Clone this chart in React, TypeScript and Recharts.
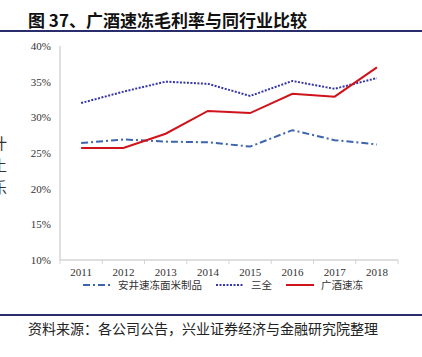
import React from "react";
import { LineChart, Line, XAxis, YAxis } from "recharts";

const years = ["2011", "2012", "2013", "2014", "2015", "2016", "2017", "2018"];
const anjing = [26.4, 26.9, 26.6, 26.5, 25.9, 28.2, 26.8, 26.2];
const sanquan = [32.0, 33.6, 35.0, 34.7, 33.0, 35.1, 34.0, 35.5];
const guangjiu = [25.7, 25.7, 27.7, 30.9, 30.6, 33.3, 32.9, 37.0];
const yTicks = [10, 15, 20, 25, 30, 35, 40];

const data = years.map((year, i) => ({
  year,
  anjing: anjing[i],
  sanquan: sanquan[i],
  guangjiu: guangjiu[i],
}));

const SERIES = [
  { key: "anjing", name: "安井速冻面米制品", color: "#3d64ae", dash: "7 3 2 3" },
  { key: "sanquan", name: "三全", color: "#3636a8", dash: "2 1.5" },
  { key: "guangjiu", name: "广酒速冻", color: "#d0121b", dash: undefined },
];

const W = 422;
const PLOT_LEFT = 60;
const PLOT_RIGHT = 24;
const BAND = (W - PLOT_LEFT - PLOT_RIGHT) / years.length;
const AXIS_COLOR = "#d4d4d4";
const NUM_FONT = "'Liberation Serif', 'Times New Roman', serif";
const CJK_FONT = "'Noto Sans CJK SC', sans-serif";

function YearTick(props: any) {
  const { x, y, payload, index } = props;
  return (
    <g>
      <line x1={x - BAND / 2} x2={x - BAND / 2} y1={y - 8} y2={y - 4} stroke={AXIS_COLOR} />
      {index === years.length - 1 && (
        <line x1={x + BAND / 2} x2={x + BAND / 2} y1={y - 8} y2={y - 4} stroke={AXIS_COLOR} />
      )}
      <text x={x} y={y} dy="0.71em" textAnchor="middle" fontSize={11} fontFamily={NUM_FONT} fill="#333">
        {payload.value}
      </text>
    </g>
  );
}

export default function App() {
  return (
    <div
      style={{
        position: "absolute",
        left: 0,
        top: 0,
        width: W,
        height: 357,
        background: "#fff",
        overflow: "hidden",
      }}
    >
      <div
        style={{
          position: "absolute",
          left: 28,
          top: 7,
          fontFamily: CJK_FONT,
          fontWeight: 700,
          fontSize: 17,
          color: "#111",
          whiteSpace: "nowrap",
        }}
      >
        图 37、广酒速冻毛利率与同行业比较
      </div>
      <div style={{ position: "absolute", left: 0, top: 30, width: W, height: 2, background: "#2a2d6c" }} />

      {["汁", "土", "乐"].map((c, i) => (
        <div
          key={c}
          style={{
            position: "absolute",
            left: -8,
            top: 132 + i * 22,
            fontFamily: CJK_FONT,
            fontSize: 15,
            color: "#333",
          }}
        >
          {c}
        </div>
      ))}

      <div style={{ position: "absolute", left: 0, top: 0 }}>
        <LineChart
          width={W}
          height={300}
          data={data}
          margin={{ top: 46, right: PLOT_RIGHT, bottom: 10, left: 10 }}
        >
          <XAxis
            dataKey="year"
            height={30}
            padding={{ left: BAND / 2, right: BAND / 2 }}
            axisLine={{ stroke: AXIS_COLOR, strokeWidth: 1.5 }}
            tickLine={false}
            tickSize={4}
            tickMargin={4}
            tick={<YearTick />}
            interval={0}
          />
          <YAxis
            width={50}
            domain={[10, 40]}
            ticks={yTicks}
            tickFormatter={(v: number) => `${v}%`}
            axisLine={{ stroke: AXIS_COLOR, strokeWidth: 1.5 }}
            tickLine={false}
            tickSize={6}
            tickMargin={3}
            tick={{ fontSize: 11, fontFamily: NUM_FONT, fill: "#333" }}
            interval={0}
          />
          {SERIES.map((s) => (
            <Line
              key={s.key}
              dataKey={s.key}
              name={s.name}
              type="linear"
              stroke={s.color}
              strokeWidth={2}
              strokeDasharray={s.dash}
              dot={false}
              activeDot={false}
              isAnimationActive={false}
            />
          ))}
        </LineChart>
      </div>

      <div
        style={{
          position: "absolute",
          left: 83,
          top: 277,
          display: "flex",
          alignItems: "center",
          fontFamily: CJK_FONT,
          fontSize: 10.5,
          color: "#333",
          whiteSpace: "nowrap",
        }}
      >
        {SERIES.map((s) => (
          <div key={s.key} style={{ display: "flex", alignItems: "center", marginRight: 14 }}>
            <svg width={28} height={10} style={{ marginRight: 7 }}>
              <line x1={0} x2={28} y1={5} y2={5} stroke={s.color} strokeWidth={2} strokeDasharray={s.dash} />
            </svg>
            <span>{s.name}</span>
          </div>
        ))}
      </div>

      <div style={{ position: "absolute", left: 0, top: 314, width: W, height: 2, background: "#2a2d6c" }} />
      <div
        style={{
          position: "absolute",
          left: 28,
          top: 318,
          fontFamily: CJK_FONT,
          fontSize: 14,
          color: "#222",
          whiteSpace: "nowrap",
        }}
      >
        资料来源：各公司公告，兴业证券经济与金融研究院整理
      </div>
    </div>
  );
}
